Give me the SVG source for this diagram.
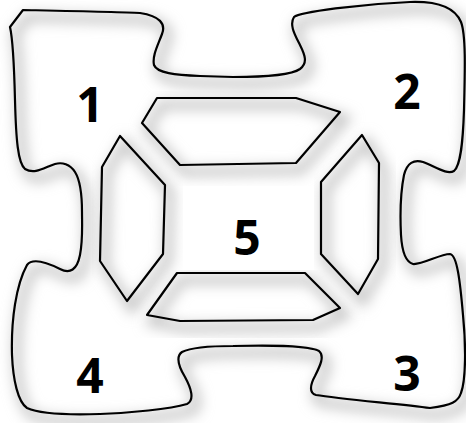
<svg xmlns="http://www.w3.org/2000/svg" xmlns:xlink="http://www.w3.org/1999/xlink" width="466" height="423" viewBox="0 0 466 423">
<style>
.shape{fill:none;stroke:#000;stroke-width:2.2;stroke-linejoin:round}
.shadow{fill:none;stroke:#c4c4c4;stroke-width:9;filter:url(#blur)}
.lbl{font-family:"Open Sans","DejaVu Sans",sans-serif;font-weight:700;font-size:48px;text-anchor:middle;fill:#000}
</style>
<defs>
<filter id="blur" x="-20%" y="-20%" width="140%" height="140%"><feGaussianBlur stdDeviation="6.5"/></filter>
<path id="outer" d="M 10,27 L 23,10 C 70,11 120,12 140,13 C 160,16 166,24 162,34 C 158,45 152,56 154,65 C 157,73 175,75 200,76 L 233,77 C 260,77 290,76 300,69 C 308,63 305,55 300,45 C 295,35 289,25 294,17 C 300,12 360,4 410,2 C 440,1 455,8 461,22 C 466,35 465,70 464,110 C 463,140 461,165 454,171 C 447,175 436,167 423,162 C 414,159 407,163 404,175 C 401,190 400,215 401,235 C 402,252 406,262 413,264 C 422,265 440,254 450,254 C 457,255 460,280 463,315 C 466,345 466,380 461,393 C 458,402 452,405 430,408 C 400,404 340,399 316,395 C 309,393 310,385 315,376 C 320,366 325,356 319,351 C 310,346 270,345 233,346 C 210,346 190,348 182,352 C 175,357 179,367 185,377 C 191,388 195,400 187,404 C 170,409 130,413 100,414 C 70,415 40,414 27,408 C 18,402 13,380 12,355 C 11,320 16,285 27,265 C 33,257 48,263 60,269 C 70,274 77,270 80,255 C 83,240 82,225 82,212 C 82,195 80,180 75,172 C 70,164 62,162 55,164 C 45,167 35,175 25,169 C 18,163 16,140 15,100 C 14,60 13,40 10,27 Z"/>
<polygon id="pTop" points="157,98 296,98 340,112 296,163 180,165 142,123"/>
<polygon id="pLeft" points="120,136 165,185 163,254 127,301 100,261 102,167"/>
<polygon id="pBottom" points="177,273 305,273 340,308 313,320 180,321 147,315"/>
<polygon id="pRight" points="362,135 379,163 378,259 358,294 321,254 321,182"/>
</defs>
<rect width="466" height="423" fill="#fff"/>
<g id="shadows" transform="translate(5,7)">
<use xlink:href="#outer" class="shadow"/>
<use xlink:href="#pTop" class="shadow"/>
<use xlink:href="#pLeft" class="shadow"/>
<use xlink:href="#pBottom" class="shadow"/>
<use xlink:href="#pRight" class="shadow"/>
</g>
<g id="frame"><use xlink:href="#outer" class="shape"/></g>
<g id="piece-top"><use xlink:href="#pTop" class="shape"/></g>
<g id="piece-left"><use xlink:href="#pLeft" class="shape"/></g>
<g id="piece-bottom"><use xlink:href="#pBottom" class="shape"/></g>
<g id="piece-right"><use xlink:href="#pRight" class="shape"/></g>
<g id="labels">
<text class="lbl" x="90" y="122">1</text>
<text class="lbl" x="407" y="109">2</text>
<text class="lbl" x="407" y="391">3</text>
<text class="lbl" x="90" y="393">4</text>
<text class="lbl" x="247" y="255">5</text>
</g>
<g id="connectors"/>
</svg>
